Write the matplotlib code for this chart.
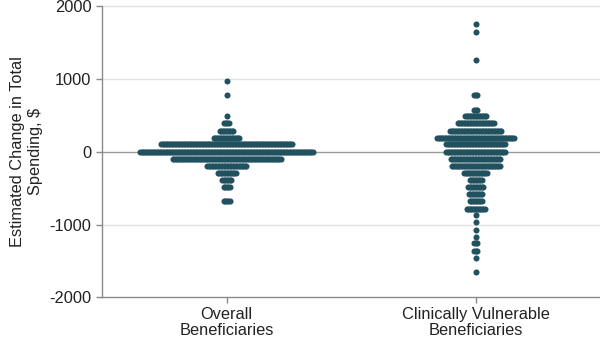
import numpy as np
import matplotlib
matplotlib.use("Agg")
import matplotlib.pyplot as plt

plt.rcParams['font.family'] = ['Liberation Sans', 'DejaVu Sans']

# Dot plot rows: estimated change ($) for each row and number of dots in it
categories = ["Overall\nBeneficiaries", "Clinically Vulnerable\nBeneficiaries"]

overall_values = [970, 780, 490, 390, 290, 190, 100, 0, -100, -190, -290, -390, -490, -680]
overall_counts = [1, 1, 1, 4, 10, 18, 88, 116, 73, 27, 13, 7, 5, 5]

vulnerable_values = [1750, 1650, 1260, 780, 580, 490, 390, 290, 190, 100, 0, -100, -190,
                     -290, -390, -490, -580, -680, -780, -870, -970, -1070, -1170, -1260,
                     -1360, -1460, -1650]
vulnerable_counts = [1, 1, 1, 3, 3, 15, 25, 35, 52, 40, 40, 34, 33,
                     16, 9, 11, 10, 9, 13, 1, 1, 1, 1, 3,
                     3, 1, 1]

yticks = [-2000, -1000, 0, 1000, 2000]
dot_color = '#21505e'

fig = plt.figure(figsize=(6, 3.41), dpi=100)
ax = fig.add_axes([0.17, 0.128, 0.83, 0.854])
ax.set_xlim(-0.5, 1.5)
ax.set_ylim(-2000, 2000)

# horizontal spacing between overlapping dots, 1.5 px converted to data units
ax_w_px = fig.get_size_inches()[0] * fig.dpi * 0.83
step = 1.5 / (ax_w_px / 2.0)

for pos, (vals, counts) in enumerate([(overall_values, overall_counts),
                                      (vulnerable_values, vulnerable_counts)]):
    xs, ys = [], []
    for v, n in zip(vals, counts):
        offs = (np.arange(n) - (n - 1) / 2.0) * step
        xs.extend(pos + offs)
        ys.extend([v] * n)
    ax.scatter(xs, ys, s=19, color=dot_color, linewidths=0, zorder=3)

for y in [1000, 2000, -1000]:
    ax.axhline(y, color='#e2e2e2', lw=1, zorder=0, clip_on=False)
ax.axhline(0, color='#9a9a9a', lw=1, zorder=1)

for s in ['top', 'right']:
    ax.spines[s].set_visible(False)
for s in ['left', 'bottom']:
    ax.spines[s].set_color('#8a8a8a')
    ax.spines[s].set_linewidth(1)

ax.set_yticks(yticks)
ax.set_yticklabels([str(t) for t in yticks])
ax.set_xticks([0, 1])
ax.set_xticklabels(categories, linespacing=1.05)
ax.tick_params(axis='both', colors='#8a8a8a', labelcolor='#222222', labelsize=11.8, length=4, width=1)
ax.tick_params(axis='x', pad=3)
ax.set_ylabel("Estimated Change in Total\nSpending, $", fontsize=11.8, color='#222222', labelpad=5)

fig.savefig("out.png", dpi=100)
